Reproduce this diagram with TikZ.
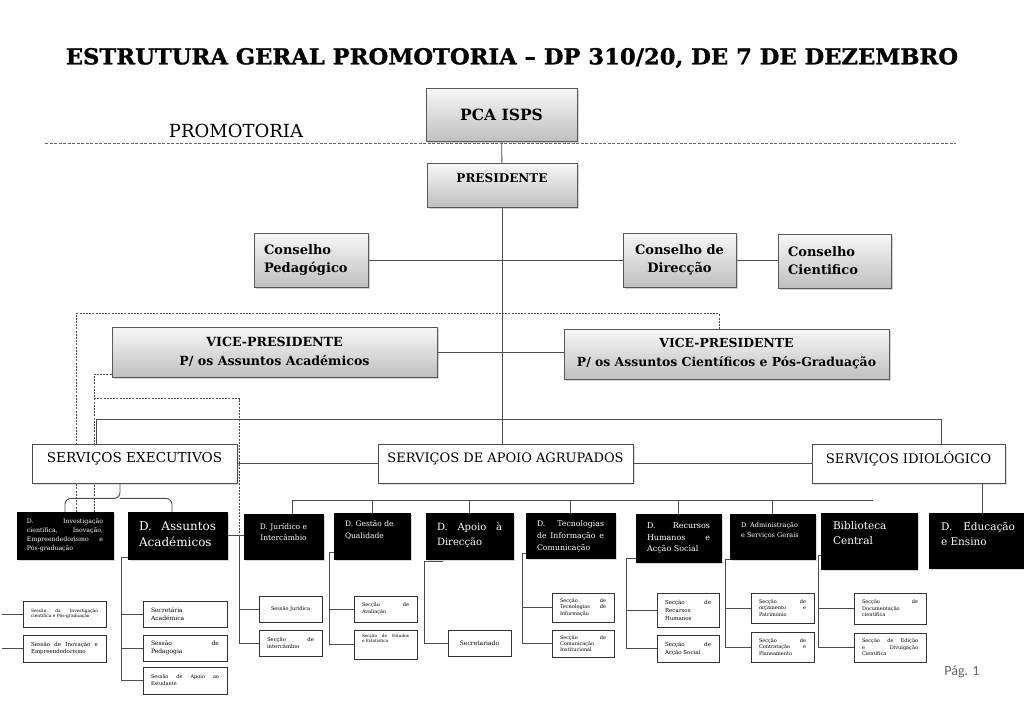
\documentclass[tikz,border=0pt]{standalone}
\usepackage{fontspec}
\usepackage{graphicx}
\setmainfont{DejaVu Serif}
\newfontfamily\titfont{DejaVu Serif}[BoldFeatures={FakeBold=1.2}]
\newfontfamily\pagfont{Carlito}
\usetikzlibrary{positioning,shadows,backgrounds}

\begin{document}
\begin{tikzpicture}[x=1pt, y=-1pt,
        chefe/.style={draw=black!65, line width=0.8pt,
                      top color=gray!6, bottom color=gray!50,
                      drop shadow={shadow xshift=2pt, shadow yshift=-2pt, opacity=.35},
                      align=center, inner sep=0pt},
        servico/.style={draw=black!70, line width=0.8pt, fill=white,
                        drop shadow={shadow xshift=1.5pt, shadow yshift=-1.5pt, opacity=.25},
                        inner sep=0pt},
        direc/.style={draw=black, fill=black, inner sep=0pt,
                      drop shadow={shadow xshift=1.5pt, shadow yshift=-1.5pt, opacity=.3}},
        dtxt/.style={text=white, inner sep=0pt, align=justify},
        rotulo/.style={inner sep=0pt},
        seccao/.style={draw=black!80, line width=0.7pt, fill=white,
                       align=justify, inner xsep=8pt, inner ysep=0pt},
        link/.style={draw=black!70, line width=0.9pt},
        dlink/.style={draw=black!70, line width=0.8pt, dash pattern=on 2pt off 1.2pt}
    ]
    \useasboundingbox (0,0) rectangle (1024,724);
    \clip (0,0) rectangle (1024,724);

    %% ── title and promotoria line ─────────────────────────────────────────
    \node[rotulo, font=\titfont\fontsize{22}{25}\selectfont\bfseries] (titulo) at (512,58)
        {\scalebox{1.03}[1]{ESTRUTURA GERAL PROMOTORIA – DP 310/20, DE 7 DE DEZEMBRO}};
    \node[rotulo, font=\fontsize{18}{20}\selectfont] (promo) at (236,131) {PROMOTORIA};
    \draw[black!60, line width=0.7pt, dash pattern=on 3pt off 1.5pt] (45,143) -- (956,143);

    %% ── top of the structure ──────────────────────────────────────────────
    \node[chefe, minimum width=151, minimum height=53,
          font=\fontsize{15.5}{18}\selectfont\bfseries] (pca) at (501.5,114.5) {PCA ISPS};
    \node[chefe, minimum width=150, minimum height=44] (pres) at (502,185) {};
    \node[rotulo, font=\fontsize{12}{14}\selectfont\bfseries, below=11pt of pres.north] {PRESIDENTE};

    \node[chefe, minimum width=114, minimum height=54, text width=94, align=left,
          font=\fontsize{13}{18}\selectfont\bfseries] (consped) at (311,260) {Conselho\\Pedagógico};
    \node[chefe, minimum width=113, minimum height=54,
          font=\fontsize{13}{18}\selectfont\bfseries] (consdir) at (679.5,260) {Conselho de\\Direcção};
    \node[chefe, minimum width=113, minimum height=54, text width=93, align=left,
          font=\fontsize{13}{18}\selectfont\bfseries] (conscie) at (834.5,261) {Conselho\\Cientifico};

    \node[chefe, minimum width=325, minimum height=50,
          font=\fontsize{12.6}{19}\selectfont\bfseries] (vpacad) at (274.5,352)
        {VICE-PRESIDENTE\\P/ os Assuntos Académicos};
    \node[chefe, minimum width=325, minimum height=50,
          font=\fontsize{12.4}{19}\selectfont\bfseries] (vpcie) at (726.5,354)
        {VICE-PRESIDENTE\\P/ os Assuntos Científicos e Pós-Graduação};

    %% ── serviços ──────────────────────────────────────────────────────────
    \node[servico, minimum width=205, minimum height=39] (servexec) at (134.5,463.5) {};
    \node[rotulo, font=\fontsize{13.6}{15}\selectfont, below=9pt of servexec.north] {SERVIÇOS EXECUTIVOS};
    \node[servico, minimum width=255, minimum height=39] (servapoio) at (505.5,463.5) {};
    \node[rotulo, font=\fontsize{13}{15}\selectfont, below=9pt of servapoio.north] {SERVIÇOS DE APOIO AGRUPADOS};
    \node[servico, minimum width=193, minimum height=39] (servidio) at (908.5,463.5) {};
    \node[rotulo, font=\fontsize{13.2}{15}\selectfont, below=7pt of servidio.north] {SERVIÇOS IDIOLÓGICO};

    %% ── direcções ─────────────────────────────────────────────────────────
    \node[direc, minimum width=96, minimum height=47] (dinv) at (65,535.5) {};
    \node[dtxt, text width=76, font=\fontsize{6.2}{8.8}\selectfont, below=7pt of dinv.north]
        {D. Investigação\linebreak científica, Inovação,\linebreak Empreendedorismo e\linebreak Pós-graduação};
    \node[direc, minimum width=99, minimum height=47] (dacad) at (177.5,535.5) {};
    \node[dtxt, text width=77, font=\fontsize{12}{16}\selectfont, below=10pt of dacad.north]
        {D.~~Assuntos\linebreak Académicos};
    \node[direc, minimum width=79, minimum height=45] (djur) at (283.5,536.5) {};
    \node[dtxt, text width=70, align=center, font=\fontsize{7.5}{11}\selectfont, below=9pt of djur.north]
        {D. Jurídico e\\Intercâmbio};
    \node[direc, minimum width=76, minimum height=46] (dqual) at (372,536) {};
    \node[dtxt, text width=54, align=left, font=\fontsize{7.5}{12}\selectfont, below=8pt of dqual.north]
        {D. Gestão de\\Qualidade};
    \node[direc, minimum width=87, minimum height=46] (dapoio) at (469.5,536) {};
    \node[dtxt, text width=65, font=\fontsize{10}{15}\selectfont, below=9pt of dapoio.north]
        {D. Apoio à\linebreak Direcção};
    \node[direc, minimum width=89, minimum height=45] (dtic) at (570.5,535.5) {};
    \node[dtxt, text width=67, font=\fontsize{7.8}{12}\selectfont, below=8pt of dtic.north]
        {D. Tecnologias\linebreak de Informação e\linebreak Comunicação};
    \node[direc, minimum width=85, minimum height=48] (drh) at (678.5,538) {};
    \node[dtxt, text width=63, font=\fontsize{8}{11.5}\selectfont, below=9pt of drh.north]
        {D. Recursos\linebreak Humanos e\linebreak Acção Social};
    \node[direc, minimum width=85, minimum height=45] (dadm) at (772.5,536.5) {};
    \node[dtxt, text width=63, align=left, font=\fontsize{6.5}{10}\selectfont, below=8.5pt of dadm.north]
        {D. Administração\\e Serviços Gerais};
    \node[direc, minimum width=96, minimum height=56] (dbib) at (869,541) {};
    \node[dtxt, text width=72, align=left, font=\fontsize{10.5}{15}\selectfont, below=9pt of dbib.north]
        {Biblioteca\\Central};
    \node[direc, minimum width=106, minimum height=55] (dedu) at (982,540.5) {};
    \node[dtxt, text width=74, font=\fontsize{10.5}{15}\selectfont, anchor=north west]
        at ([shift={(12pt,-9pt)}]dedu.north west) {D.~~Educação\linebreak e Ensino};

    %% ── secções ───────────────────────────────────────────────────────────
    \node[seccao, minimum width=83, minimum height=26, text width=67, font=\fontsize{4.4}{5.5}\selectfont]
        (linv1) at (64.5,614) {Sessão da Investigação\linebreak científica e Pós-graduação};
    \node[seccao, minimum width=83, minimum height=27, text width=67, font=\fontsize{5.5}{7}\selectfont]
        (linv2) at (64.5,648.5) {Sessão de Inovação e\linebreak Empreendedorismo};

    \node[seccao, minimum width=84, minimum height=26, text width=68, font=\fontsize{6}{8.5}\selectfont]
        (lacad1) at (185,614) {Secretária\newline Académica};
    \node[seccao, minimum width=84, minimum height=26, text width=68, font=\fontsize{6}{8.5}\selectfont]
        (lacad2) at (185,648) {Sessão de\linebreak Pedagogia};
    \node[seccao, minimum width=84, minimum height=27, text width=68, font=\fontsize{5}{7}\selectfont]
        (lacad3) at (185,680.5) {Sessão de Apoio ao\linebreak Estudante};

    \node[seccao, minimum width=63, minimum height=26, text width=47, align=center, font=\fontsize{5}{6.5}\selectfont]
        (ljur1) at (290.5,609) {Sessão Jurídica\\[8pt]};
    \node[seccao, minimum width=63, minimum height=26, text width=47, font=\fontsize{5.3}{7}\selectfont]
        (ljur2) at (290.5,643) {Secção de\linebreak intercâmbio};

    \node[seccao, minimum width=63, minimum height=26, text width=47, font=\fontsize{5}{7}\selectfont]
        (lqual1) at (385.5,609) {Secção de\linebreak Avaliação};
    \node[seccao, minimum width=63, minimum height=29, text width=47, font=\fontsize{4.2}{5.5}\selectfont]
        (lqual2) at (385.5,644.5) {Secção de Estudos\linebreak e Estatística\\[7pt]};

    \node[seccao, minimum width=63, minimum height=26, text width=47, align=center, font=\fontsize{6}{7}\selectfont]
        (lapoio) at (479.5,643) {Secretariado\\[6pt]};

    \node[seccao, minimum width=62, minimum height=29, text width=46, font=\fontsize{5}{6.3}\selectfont]
        (ltic1) at (583,607.5) {Secção de\linebreak Tecnologias de\linebreak Informação};
    \node[seccao, minimum width=62, minimum height=27, text width=46, font=\fontsize{5}{6.3}\selectfont]
        (ltic2) at (583,643.5) {Secção de\linebreak Comunicação\newline Institucional};

    \node[seccao, minimum width=62, minimum height=34, text width=46, font=\fontsize{5.5}{8}\selectfont]
        (lrh1) at (688,610) {Secção de\linebreak Recursos\newline Humanos};
    \node[seccao, minimum width=62, minimum height=27, text width=46, font=\fontsize{5.5}{8}\selectfont]
        (lrh2) at (688,648.5) {Secção de\linebreak Acção Social};

    \node[seccao, minimum width=63, minimum height=30, text width=47, font=\fontsize{5}{6.5}\selectfont]
        (ladm1) at (782.5,608) {Secção de\linebreak orçamento e\linebreak Património};
    \node[seccao, minimum width=63, minimum height=30, text width=47, font=\fontsize{5}{6.5}\selectfont]
        (ladm2) at (782.5,647) {Secção de\linebreak Contratação e\linebreak Planeamento};

    \node[seccao, minimum width=72, minimum height=31, text width=56, font=\fontsize{5}{6.5}\selectfont]
        (lbib1) at (890,608.5) {Secção de\linebreak Documentação\newline científica};
    \node[seccao, minimum width=72, minimum height=29, text width=56, font=\fontsize{5}{6.5}\selectfont]
        (lbib2) at (890,647.5) {Secção de Edição\linebreak e Divulgação\linebreak Científica};

    \node[rotulo, text=black!60, font=\pagfont\fontsize{14}{16}\selectfont] (pag) at (962,672) {Pág. 1};

    %% ── connectors (behind the boxes) ─────────────────────────────────────
    \begin{scope}[on background layer]
    \draw[link] (pca) -- (pres);
    \draw[link] (pres.south) -- (pres.south |- servapoio.north);
    \draw[link] (consped) -- (consdir);
    \draw[link] (consdir.east) -- (consdir.east -| conscie.west);
    \draw[link] (vpacad.east) -- (vpacad.east -| vpcie.west);

    % serviços bar
    \draw[link] ([xshift=-38.5pt]servexec.north) -- ++(0,-24) -| ([xshift=32.5pt]servidio.north);
    \draw[link] (servexec) -- (servapoio);
    \draw[link] (servapoio) -- (servidio);
    \draw[link] (dedu.north |- servidio.south) -- (dedu.north);

    % serviços executivos
    \draw[link, rounded corners=6pt] (dinv.north) |- ([xshift=-14.5pt,yshift=-15pt]servexec.south)
        -- ([xshift=-14.5pt]servexec.south);
    \draw[link, rounded corners=6pt] ([xshift=-5.5pt]dacad.north) |- ([xshift=-14.5pt,yshift=-15pt]servexec.south);
    \draw[link] (dacad.east) -- (dacad.east -| djur.west);

    % serviços de apoio
    \coordinate (barra) at (873,500);
    \draw[link] (barra) -| ([xshift=9pt]djur.north);
    \foreach \d in {dqual,dapoio,dtic,drh,dadm}
        \draw[link] (\d.north) -- (\d.north |- barra);

    % dashed links from the vice-presidents
    \draw[dlink] ([xshift=11pt]dinv.north) -- ++(0,-198) -| ([xshift=-7.5pt]vpcie.north);
    \draw[dlink] ([yshift=3pt]vpacad.south west) -| ([xshift=29pt]dinv.north);
    \draw[dlink] ([xshift=29pt]dinv.north) ++(0,-113) -| ([xshift=-4pt]djur.west);

    % secções
    \draw[link] (linv1.west) -- ++(-21,0);
    \draw[link] (linv2.west) -- ++(-21,0);
    \draw[link] ([yshift=2pt]dacad.south west) -- ++(-6,0) |- (lacad3.west);
    \draw[link] (lacad1.west) -- ++(-21,0);
    \draw[link] (lacad2.west) -- ++(-21,0);
    \draw[link] ([xshift=-4pt]djur.west) |- (ljur2.west);
    \draw[link] (ljur1.west) -- ++(-19.5,0);
    \draw[link] ([yshift=7pt]dqual.south west) -- ++(-4,0) |- (lqual2.west);
    \draw[link] (lqual1.west) -- ++(-24,0);
    \draw[link] ([shift={(17pt,-2pt)}]dapoio.south west) -- ++(-18,0) |- (lapoio.west);
    \draw[link] ([yshift=5pt]dtic.south west) -- ++(-3,0) |- (ltic2.west);
    \draw[link] (ltic1.west) -- ++(-29,0);
    \draw[link] ([yshift=4pt]drh.south west) -- ++(-9,0) |- (lrh2.west);
    \draw[link] (lrh1.west) -- ++(-30,0);
    \draw[link] ([xshift=15pt]dadm.south west) -- ++(-19,0) |- (ladm2.west);
    \draw[link] (ladm1.west) -- ++(-25,0);
    \draw[link] ([yshift=14pt]dbib.south west) -- ++(-2,0) |- (lbib2.west);
    \draw[link] (lbib1.west) -- ++(-35,0);
    \end{scope}

\end{tikzpicture}
\end{document}
